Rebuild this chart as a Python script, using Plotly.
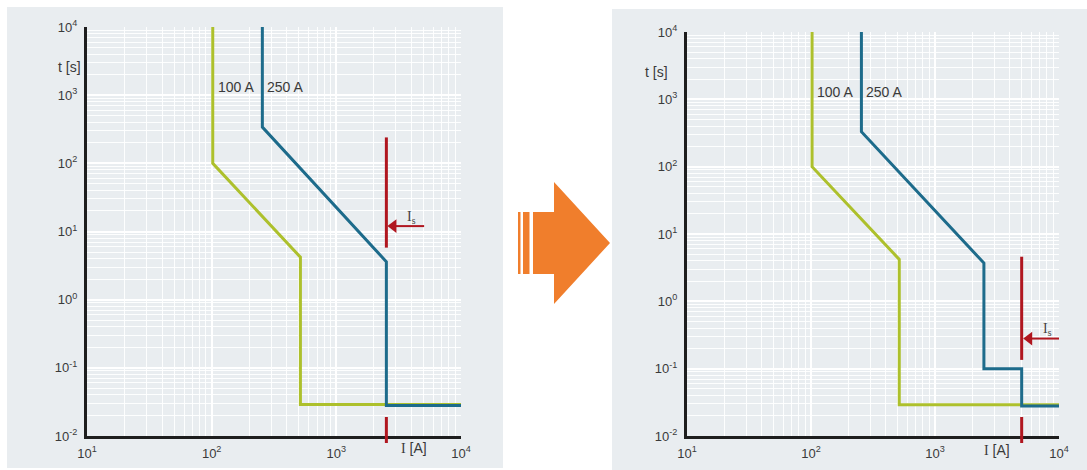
import numpy as np
import plotly.graph_objects as go

W, H = 1087, 470

# ---------------- data ----------------
x_tick_vals = [10, 100, 1000, 10000]
x_tick_text = ["10<sup>1</sup>", "10<sup>2</sup>", "10<sup>3</sup>", "10<sup>4</sup>"]
y_tick_vals = [0.01, 0.1, 1, 10, 100, 1000, 10000]
y_tick_text = ["10<sup>-2</sup>", "10<sup>-1</sup>", "10<sup>0</sup>", "10<sup>1</sup>",
               "10<sup>2</sup>", "10<sup>3</sup>", "10<sup>4</sup>"]

# 100 A breaker (same in both panels)
green_I = [102, 102, 515, 515, 10000]
green_t = [10000, 100, 4.2, 0.029, 0.029]

# 250 A breaker, before (left) and after (right)
blue_before_I = [255, 255, 2520, 2520, 10000]
blue_before_t = [10000, 340, 3.6, 0.028, 0.028]
blue_after_I = [255, 255, 2480, 2480, 5000, 5000, 10000]
blue_after_t = [10000, 330, 3.7, 0.1, 0.1, 0.028, 0.028]

# short-circuit current Is marker
red_before_I = [2520, 2520]
red_before_t = [240, 5.8]
red_after_I = [5000, 5000]
red_after_t = [4.6, 0.135]

arrow_before_I = [2870, 5060]
arrow_before_t = [12, 12]
arrow_after_I = [5750, 10000]
arrow_after_t = [0.28, 0.28]

is_label_before = (3550, 16)
is_label_after = (7200, 0.38)

curve_labels = ["100 A", "250 A"]
curve_label_t = [1300, 1300]

# ---------------- style ----------------
GREEN = "#adc02c"
BLUE = "#1d6b8b"
RED = "#b0161f"
ORANGE = "#f07e2c"
PANEL = "#e9edf0"
PLOTBG = "#d2dce4"
TXT = "#3a3a3a"
FONT = "Liberation Sans, Arial, sans-serif"


def px(x):
    return x / W


def py(y):
    return 1 - y / H


minor_vals_x = [m * 10 ** e for e in range(1, 4) for m in range(2, 10)]
minor_vals_y = [m * 10.0 ** e for e in range(-2, 4) for m in range(2, 10)]

fig = go.Figure()


def add_panel(xa, ya, blue_I, blue_t, red_I, red_t, arr_I, arr_t, is_lab):
    fig.add_trace(go.Scatter(x=green_I, y=green_t, mode="lines", xaxis=xa, yaxis=ya,
                             line=dict(color=GREEN, width=3), hoverinfo="skip", showlegend=False))
    fig.add_trace(go.Scatter(x=blue_I, y=blue_t, mode="lines", xaxis=xa, yaxis=ya,
                             line=dict(color=BLUE, width=3), hoverinfo="skip", showlegend=False))
    fig.add_trace(go.Scatter(x=red_I, y=red_t, mode="lines", xaxis=xa, yaxis=ya,
                             line=dict(color=RED, width=3), hoverinfo="skip", showlegend=False))
    fig.add_trace(go.Scatter(x=arr_I, y=arr_t, mode="lines", xaxis=xa, yaxis=ya,
                             line=dict(color=RED, width=2), hoverinfo="skip", showlegend=False))
    fig.add_trace(go.Scatter(x=[arr_I[0]], y=[arr_t[0]], mode="markers", xaxis=xa, yaxis=ya,
                             marker=dict(symbol="triangle-left", size=12, color=RED),
                             hoverinfo="skip", showlegend=False))
    # curve labels
    for lab, I0, tl in zip(curve_labels, [green_I[0], blue_I[0]], curve_label_t):
        fig.add_annotation(x=np.log10(I0), y=np.log10(tl), xref=xa, yref=ya, text=lab,
                           showarrow=False, xanchor="left", yanchor="middle", xshift=3,
                           font=dict(size=14, color=TXT, family=FONT))
    fig.add_annotation(x=np.log10(is_lab[0]), y=np.log10(is_lab[1]), xref=xa, yref=ya,
                       text="I<sub>s</sub>", showarrow=False, xanchor="left", yanchor="middle",
                       font=dict(size=14, color="#444", family="Liberation Serif, Times New Roman, serif"))
    # stub of the Is marker across the x axis
    fig.add_shape(type="line", xref=xa, yref="paper", x0=red_I[0], x1=red_I[0],
                  y0=py(417), y1=py(443), line=dict(color=RED, width=3), layer="above")
    # plot area background
    fig.add_shape(type="rect", xref=xa + " domain", yref=ya + " domain", x0=0, x1=1, y0=0, y1=1,
                  fillcolor=PLOTBG, line=dict(width=0), layer="below")


add_panel("x", "y", blue_before_I, blue_before_t, red_before_I, red_before_t,
          arrow_before_I, arrow_before_t, is_label_before)
add_panel("x2", "y2", blue_after_I, blue_after_t, red_after_I, red_after_t,
          arrow_after_I, arrow_after_t, is_label_after)

# panel backgrounds
fig.add_shape(type="rect", xref="paper", yref="paper", x0=px(7), x1=px(503), y0=py(468), y1=py(7),
              fillcolor=PANEL, line=dict(width=0), layer="below")
fig.add_shape(type="rect", xref="paper", yref="paper", x0=px(612), x1=px(1087), y0=py(470), y1=py(9),
              fillcolor=PANEL, line=dict(width=0), layer="below")

# orange arrow between the panels
pts = [(533, 212), (554, 212), (554, 182), (610, 243), (554, 304), (554, 274), (533, 274)]
path = "M " + " L ".join(f"{px(a):.5f},{py(b):.5f}" for a, b in pts) + " Z"
fig.add_shape(type="path", xref="paper", yref="paper", path=path, fillcolor=ORANGE,
              line=dict(width=0), layer="above")
for a, b in [(518, 520.5), (523, 529.5)]:
    fig.add_shape(type="rect", xref="paper", yref="paper", x0=px(a), x1=px(b), y0=py(274), y1=py(212),
                  fillcolor=ORANGE, line=dict(width=0), layer="above")

# axis titles
for xt, yt in [(56, 57), (656, 62)]:
    fig.add_annotation(x=px(xt), y=py(yt), xref="paper", yref="paper", text="t [s]", showarrow=False,
                       font=dict(size=14, color=TXT, family=FONT))
for xt, yt in [(414, 458), (1012, 460)]:
    fig.add_annotation(x=px(xt), y=py(yt), xref="paper", yref="paper",
                       text="<span style='font-family:Liberation Serif'>I</span> [A]", showarrow=False,
                       font=dict(size=14, color=TXT, family=FONT))

xaxis_common = dict(type="log", range=[1, 4], showline=True, linecolor="#1e1e1e", linewidth=3,
                    showgrid=True, gridcolor="white", gridwidth=1.5, zeroline=False, automargin=False,
                    tickmode="array", tickvals=x_tick_vals, ticktext=x_tick_text,
                    ticks="outside", ticklen=3, tickcolor="rgba(0,0,0,0)",
                    tickfont=dict(size=13, color=TXT, family=FONT),
                    minor=dict(tickmode="array", tickvals=minor_vals_x, showgrid=True,
                               gridcolor="rgba(255,255,255,0.9)", gridwidth=1.2, ticks=""),
                    fixedrange=True)
yaxis_common = dict(type="log", range=[-2, 4], showline=True, linecolor="#1e1e1e", linewidth=3,
                    showgrid=True, gridcolor="white", gridwidth=1.5, zeroline=False, automargin=False,
                    tickmode="array", tickvals=y_tick_vals, ticktext=y_tick_text,
                    ticks="outside", ticklen=4, tickcolor="rgba(0,0,0,0)",
                    tickfont=dict(size=13, color=TXT, family=FONT),
                    minor=dict(tickmode="array", tickvals=minor_vals_y, showgrid=True,
                               gridcolor="rgba(255,255,255,0.9)", gridwidth=1.2, ticks=""),
                    fixedrange=True)

fig.update_layout(
    width=W, height=H, margin=dict(l=0, r=0, t=0, b=0),
    paper_bgcolor="white", plot_bgcolor=PLOTBG, showlegend=False,
    xaxis=dict(xaxis_common, domain=[px(87), px(461)], anchor="y"),
    yaxis=dict(yaxis_common, domain=[py(436), py(27)], anchor="x"),
    xaxis2=dict(xaxis_common, domain=[px(687), px(1059)], anchor="y2"),
    yaxis2=dict(yaxis_common, domain=[py(436), py(32)], anchor="x2"),
)

fig.write_html("out.html", config={"displayModeBar": False},
               post_script="document.body.style.margin='0';document.body.style.padding='0';"
                           "document.body.style.overflow='hidden';")
